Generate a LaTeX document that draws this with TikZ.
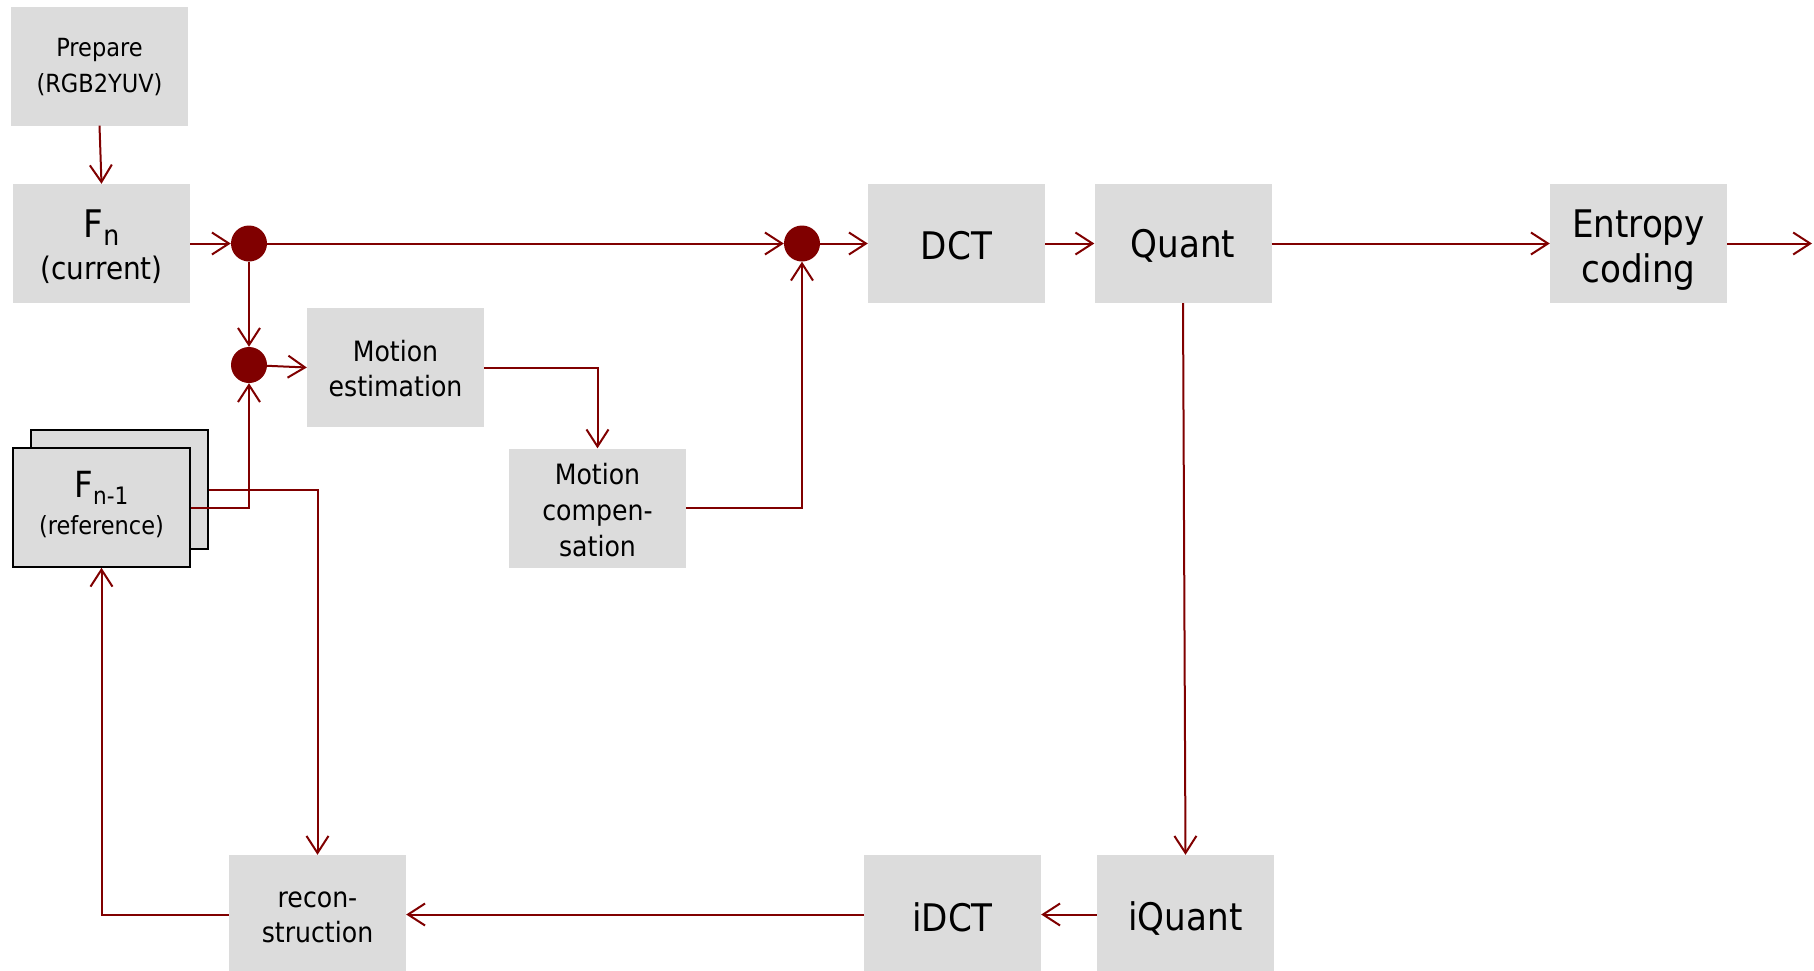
\documentclass[tikz,border=0pt]{standalone}
\usepackage{fontspec}
\setmainfont{DejaVu Sans Condensed}
\usetikzlibrary{arrows.meta}
\definecolor{lred}{HTML}{800000}
\definecolor{boxgray}{HTML}{DCDCDC}
\begin{document}
\begin{tikzpicture}[x=1pt,y=-1pt,
  box/.style={fill=boxgray, draw=none, minimum width=177pt, minimum height=119pt, inner sep=0pt},
  frame/.style={box, draw=black, line width=1.6pt},
  txt/.style={align=center, inner sep=0pt, font=\fontsize{28}{35}\selectfont},
  big/.style={txt, font=\fontsize{38}{45}\selectfont},
  small/.style={txt, font=\fontsize{25}{36}\selectfont},
  dot/.style={circle, fill=lred, minimum size=36pt, inner sep=0pt},
  conn/.style={draw=lred, line width=2pt, -{Straight Barb[length=17pt,width=22pt]}},
]
\useasboundingbox (0,0) rectangle (1814,970);

% boxes
\node[box] (prep) at (99.5,66) {};
\node[box] (fn) at (101.5,243.5) {};
\node[box] (me) at (395.5,367.5) {};
\node[frame] (fnb) at (119.5,489.5) {};
\node[frame] (fnf) at (101.5,507.5) {};
\node[box] (mc) at (597.5,508) {};
\node[box] (dct) at (956.5,243.5) {};
\node[box] (quant) at (1183,243.5) {};
\node[box] (ent) at (1638.5,243.5) {};
\node[box] (recon) at (317.5,914.5) {};
\node[box] (idct) at (952.5,914.5) {};
\node[box] (iquant) at (1185.5,914.5) {};

% texts
\node[small] (preptxt) at (99.5,67) {Prepare\\(RGB2YUV)};
\node[txt] (fntxt) at (101.5,247) {{\fontsize{38}{40}\selectfont F}{\fontsize{28}{30}\selectfont\raisebox{-8pt}{n}}\\[7pt]{\fontsize{31}{36}\selectfont (current)}};
\node[txt] (metxt) at (395.5,368.5) {Motion\\estimation};
\node[txt] (fnftxt) at (101.5,504.5) {{\fontsize{36}{40}\selectfont F}{\fontsize{24}{30}\selectfont\raisebox{-7pt}{n-1}}\\[2pt]{\fontsize{25}{32}\selectfont (reference)}};
\node[txt, font=\fontsize{28}{36}\selectfont] (mctxt) at (597.5,510.5) {Motion\\compen-\\sation};
\node[big] (dcttxt) at (956.5,246) {DCT};
\node[big] (quanttxt) at (1183,246) {Quant};
\node[big] (enttxt) at (1638.5,250.5) {Entropy\\coding};
\node[txt] (recontxt) at (317.5,917.5) {recon-\\struction};
\node[big] (idcttxt) at (952.5,917.5) {iDCT};
\node[big] (iquanttxt) at (1185.5,918.5) {iQuant};

% junction dots
\node[dot] (dot1) at (249,243.5) {};
\node[dot] (dot2) at (249,365) {};
\node[dot] (dot3) at (802,243.5) {};

\coordinate (out) at (1812,243.5);

% connectors
\draw[conn] (prep.south) -- (fn.north);
\draw[conn] (fn.east) -- (dot1.west);
\draw[conn] (dot1.east) -- (dot3.west);
\draw[conn] (dot1.south) -- (dot2.north);
\draw[conn] (dot2) -- (me.west);
\draw[conn] (dot3.east) -- (dct.west);
\draw[conn] (dct.east) -- (quant.west);
\draw[conn] (quant.east) -- (ent.west);
\draw[conn] (ent.east) -- (out);
\draw[conn] (quant.south) -- (iquant.north);
\draw[conn] (iquant.west) -- (idct.east);
\draw[conn] (idct.west) -- (recon.east);
\draw[conn] (recon.west) -| (fnf.south);
\draw[conn] (fnf.east) -| (dot2.south);
\draw[conn] (fnb.east) -| (recon.north);
\draw[conn] (me.east) -| (mc.north);
\draw[conn] (mc.east) -| (dot3.south);
\end{tikzpicture}
\end{document}
